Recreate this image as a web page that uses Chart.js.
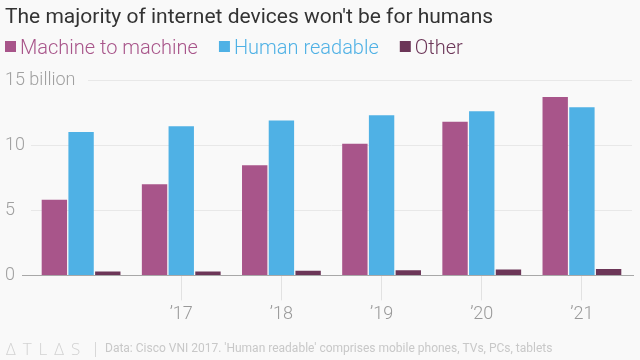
<!DOCTYPE html>
<html><head><meta charset="utf-8">
<script src="https://cdn.jsdelivr.net/npm/chart.js@4/dist/chart.umd.min.js"></script>
<style>html,body{margin:0;padding:0;background:#f9f9f9;}#wrap{width:640px;height:360px;position:relative;}</style>
</head><body><div id="wrap"><canvas id="c" width="640" height="360"></canvas></div>
<script>
const categories = ['2016','2017','2018','2019','2020','2021'];
const tickLabels = ['', '\u201917', '\u201918', '\u201919', '\u201920', '\u201921'];
const machineToMachine = [5.8, 7.0, 8.45, 10.1, 11.8, 13.7];
const humanReadable = [11.0, 11.45, 11.9, 12.3, 12.6, 12.9];
const other = [0.3, 0.3, 0.35, 0.4, 0.45, 0.5];
const yTicks = [0, 5, 10, 15];
const seriesNames = ['Machine to machine', 'Human readable', 'Other'];
const seriesColors = ['#a8558a', '#4fb1e5', '#6c3658'];
const titleText = "The majority of internet devices won't be for humans";
const sourceText = "Data: Cisco VNI 2017. 'Human readable' comprises mobile phones, TVs, PCs, tablets";
const BG = '#f9f9f9';

const decor = {
  id: 'decor',
  beforeDraw(chart) {
    const ctx = chart.ctx;
    ctx.save();
    ctx.fillStyle = BG;
    ctx.fillRect(0, 0, chart.width, chart.height);
    // title
    ctx.fillStyle = '#333333';
    ctx.textBaseline = 'alphabetic';
    ctx.font = '21px Roboto, sans-serif';
    ctx.fillText(titleText, 5, 23);
    // legend
    ctx.font = '300 20px Roboto, sans-serif';
    let x = 5;
    chart.data.datasets.forEach((d, i) => {
      ctx.fillStyle = seriesColors[i];
      ctx.fillRect(x, 41, 11, 11);
      ctx.fillText(d.label, x + 15, 53.5);
      x += 15 + ctx.measureText(d.label).width + 21;
    });
    ctx.restore();
  },
  beforeDatasetsDraw(chart) {
    const ctx = chart.ctx, y = chart.scales.y, a = chart.chartArea;
    ctx.save();
    ctx.strokeStyle = '#e8e8e8';
    ctx.lineWidth = 1;
    const y15 = Math.round(y.getPixelForValue(15)) + 0.5;
    ctx.beginPath(); ctx.moveTo(88, y15); ctx.lineTo(a.right, y15); ctx.stroke();
    const y0 = Math.round(y.getPixelForValue(0)) + 0.5;
    ctx.strokeStyle = '#a8a8a8';
    ctx.beginPath(); ctx.moveTo(22, y0); ctx.lineTo(634, y0); ctx.stroke();
    ctx.restore();
  },
  afterDraw(chart) {
    const ctx = chart.ctx;
    ctx.save();
    ctx.fillStyle = '#d2d2d2';
    ctx.textBaseline = 'alphabetic';
    ctx.font = '300 17px "Open Sans", sans-serif';
    const logo = ['\u0394','T','L','\u0394','S'];
    let x = 6;
    logo.forEach(ch => { ctx.fillText(ch, x, 355); x += ctx.measureText(ch).width + 7; });
    ctx.strokeStyle = '#d8d8d8';
    ctx.beginPath(); ctx.moveTo(95.5, 342); ctx.lineTo(95.5, 357); ctx.stroke();
    ctx.fillStyle = '#c8c8c8';
    ctx.font = '12px Roboto, sans-serif';
    ctx.fillText(sourceText, 105, 352);
    ctx.restore();
  }
};

new Chart(document.getElementById('c'), {
  type: 'bar',
  data: {
    labels: categories,
    datasets: [
      { label: seriesNames[0], data: machineToMachine, backgroundColor: seriesColors[0] },
      { label: seriesNames[1], data: humanReadable, backgroundColor: seriesColors[1] },
      { label: seriesNames[2], data: other, backgroundColor: seriesColors[2] }
    ]
  },
  options: {
    responsive: false,
    animation: false,
    devicePixelRatio: 1,
    layout: { padding: { left: 5, right: 8, top: 80, bottom: 32 } },
    datasets: { bar: { categoryPercentage: 0.8, barPercentage: 0.95, borderWidth: 0 } },
    plugins: {
      title: { display: false },
      legend: { display: false },
      tooltip: { enabled: false }
    },
    scales: {
      x: {
        offset: true,
        grid: {
          offset: false, drawOnChartArea: false, drawTicks: true, tickLength: 25,
          color: ctx => ctx.index === 0 ? 'rgba(0,0,0,0)' : '#e2e2e2'
        },
        border: { display: false },
        ticks: {
          padding: 3, color: '#999999', maxRotation: 0,
          font: { family: 'Roboto', size: 18, weight: '300' },
          callback: (v, i) => tickLabels[i]
        }
      },
      y: {
        min: 0, max: 15,
        afterFit(scale) { scale.width = 26; },
        afterBuildTicks(scale) { scale.ticks = yTicks.map(v => ({ value: v })); },
        grid: {
          drawTicks: false,
          color: ctx => (ctx.tick && (ctx.tick.value === 0 || ctx.tick.value === 15)) ? 'rgba(0,0,0,0)' : '#e8e8e8'
        },
        border: { display: false },
        ticks: {
          mirror: true, padding: -26, color: '#a0a0a0',
          font: { family: 'Roboto', size: 18, weight: '300' },
          callback: v => v === 15 ? '15 billion' : String(v)
        }
      }
    }
  },
  plugins: [decor]
});
</script></body></html>
